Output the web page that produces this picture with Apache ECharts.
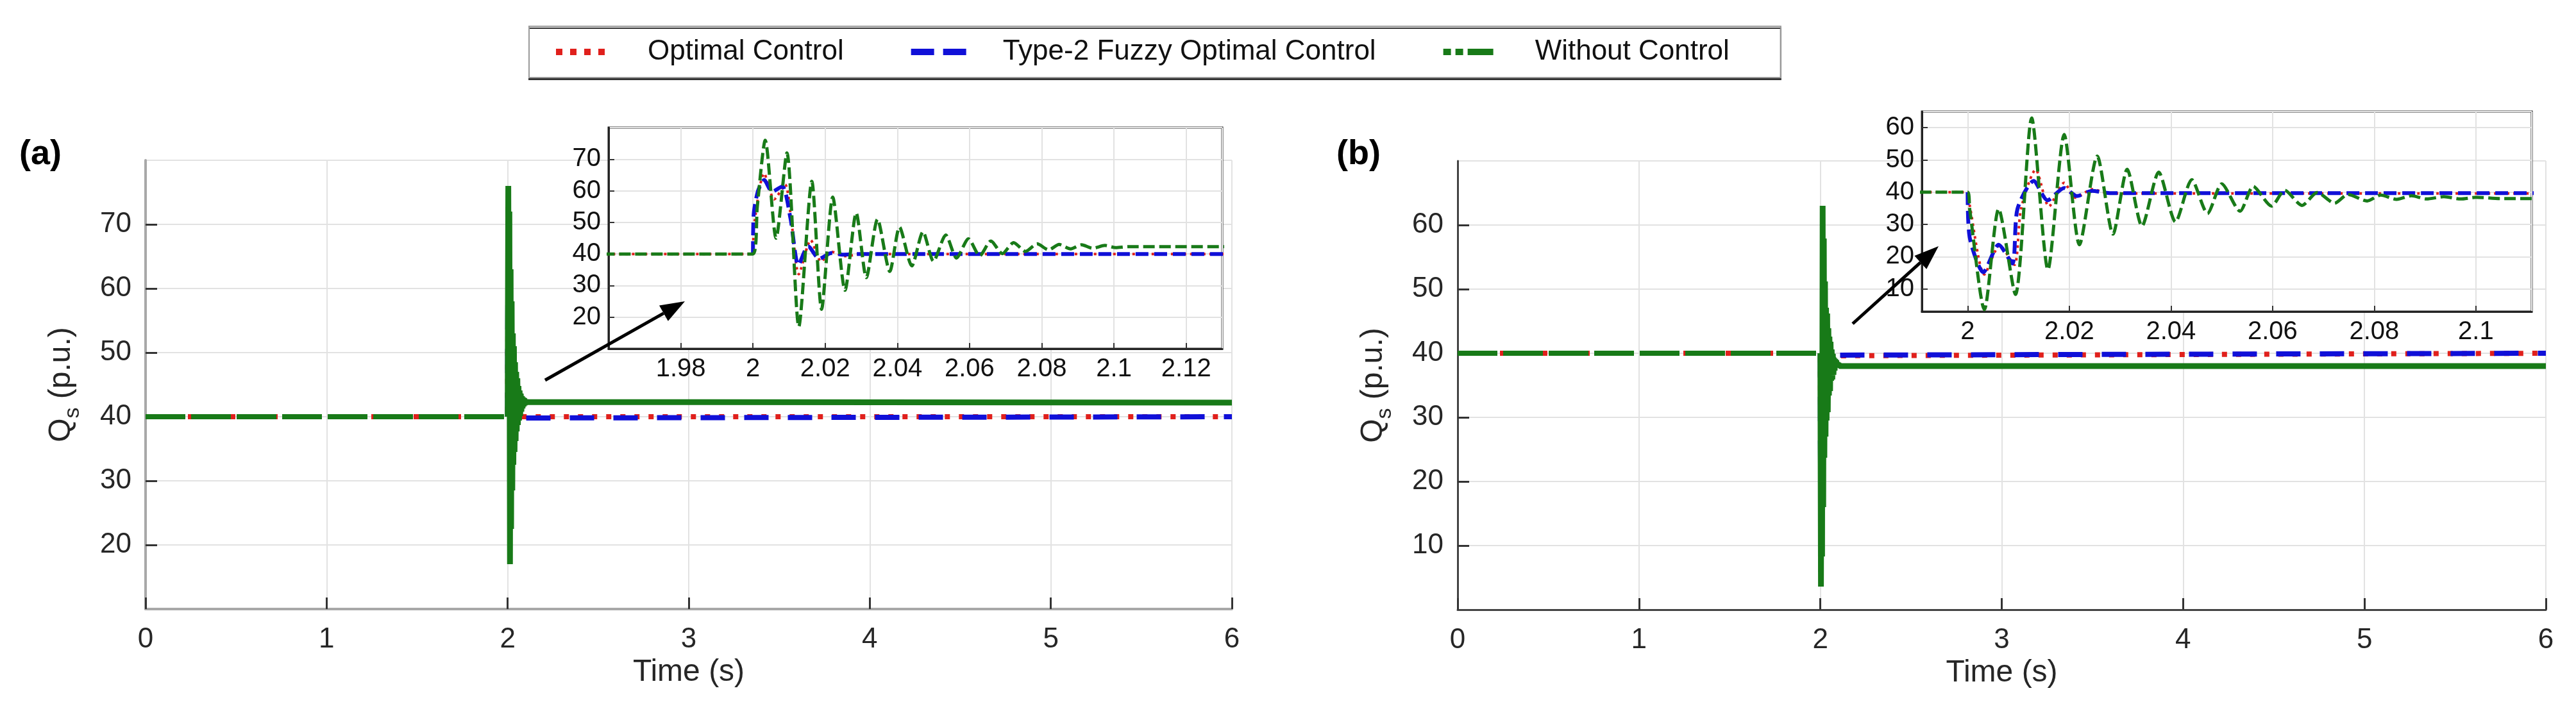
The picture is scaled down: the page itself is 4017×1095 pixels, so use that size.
<!DOCTYPE html>
<html><head><meta charset="utf-8">
<script src="https://cdn.jsdelivr.net/npm/echarts@6/dist/echarts.min.js"></script>
<style>html,body{margin:0;padding:0;background:#fff}#c{width:4017px;height:1095px}</style>
</head><body><div id="c"></div>
<script>
// ---------- DATA ----------
const seriesNames = ['Optimal Control', 'Type-2 Fuzzy Optimal Control', 'Without Control'];

// Panel (a)
const tA_without = [0, 2.000, 2.0012, 2.0034, 2.0064, 2.0094, 2.0127, 2.0163, 2.0190, 2.0221, 2.0255, 2.0286, 2.0314, 2.0345, 2.0379, 2.0406, 2.0440, 2.0471, 2.0500, 2.0534, 2.0564, 2.0597, 2.0628, 2.0659, 2.0691, 2.0722, 2.0755, 2.0787, 2.0819, 2.0848, 2.0880, 2.0910, 2.0941, 2.0975, 2.1005, 2.1040, 6];
const qA_without = [40, 40, 55, 76, 45, 72, 17, 63, 22.5, 58, 28.5, 53, 32.5, 51, 34.5, 48.5, 36.2, 47, 37.7, 46, 38.7, 44.8, 39.4, 44.1, 40.1, 43.6, 40.8, 43.2, 41.3, 43.0, 41.6, 42.9, 41.8, 42.7, 42.0, 42.3, 42.2];
const tA_fuzzy = [2.000, 2.0002, 2.0014, 2.0031, 2.0053, 2.0081, 2.0104, 2.0126, 2.0153, 2.0184, 2.0217, 2.0248, 2.0290, 6];
const qA_fuzzy = [40, 52.5, 60, 63.4, 59.7, 61.4, 51.2, 36.5, 42.4, 38.5, 40.3, 39.8, 40, 40];
const tA_optimal = [0, 2.000, 2.0002, 2.0031, 2.0059, 2.0089, 2.0107, 2.0127, 2.0160, 2.0189, 2.0217, 2.0257, 2.0300, 6];
const qA_optimal = [40, 40, 47.8, 65.5, 57.3, 62.0, 49.8, 33.6, 44.4, 37.6, 40.7, 39.3, 40, 40];

// Panel (b)
const tB_without = [0, 2.000, 2.0004, 2.0033, 2.0061, 2.0094, 2.0126, 2.0158, 2.0190, 2.0220, 2.0255, 2.0286, 2.0314, 2.0343, 2.0376, 2.0409, 2.0441, 2.0472, 2.0500, 2.0536, 2.0562, 2.0598, 2.0624, 2.0658, 2.0688, 2.0722, 2.0748, 2.0786, 2.0813, 2.0844, 2.0873, 2.0903, 2.0937, 2.0970, 2.1000, 2.1050, 6];
const qB_without = [40, 40, 34.8, 3.6, 34.8, 8.3, 63, 16, 57.9, 23.7, 51.2, 27, 47.1, 29.5, 46.2, 30.8, 43.9, 33.4, 42.6, 34.1, 41.8, 35.7, 40.6, 35.9, 39.9, 36.6, 39.3, 37.3, 39.1, 37.8, 38.9, 37.9, 38.6, 37.9, 38.4, 38.0, 38.0];
const tB_fuzzy = [2.000, 2.0004, 2.0031, 2.0061, 2.0088, 2.0098, 2.0130, 2.0157, 2.0190, 2.0215, 2.0245, 2.0280, 6];
const qB_fuzzy = [40, 26, 15.2, 23.7, 17.9, 34.8, 43.5, 37.5, 41.3, 38.8, 40.4, 39.7, 40];
const tB_optimal = [0, 2.000, 2.0004, 2.0033, 2.0063, 2.0092, 2.0105, 2.0134, 2.0160, 2.0190, 2.0212, 2.0245, 2.0280, 6];
const qB_optimal = [40, 40, 36, 14.5, 23.5, 17.5, 34.8, 47, 35.6, 42.9, 38.3, 40.9, 39.6, 40];

// Axis ranges
const mainX = [0, 6];
const mainYA = [10, 80];
const mainYB = [0, 70];
const insetXA = [1.96, 2.13];
const insetYA = [10, 80];
const insetXB = [1.991, 2.111];
const insetYB = [3, 65];

// ---------- helpers ----------
const pairs = (t, q) => t.map((v, i) => [v, q[i]]);
const upTo = (t, q, t1) => pairs(t, q).filter(p => p[0] <= t1);
const fromT = (t, q, t0) => pairs(t, q).filter(p => p[0] >= t0);

const FONT = "'Liberation Sans', Arial, Helvetica, sans-serif";
const RED = '#e0201c', BLUE = '#1010d8', GREEN = '#187a18';
const TXT = '#262626';

function mainXAxis(gi, axisColor, axisW) {
  return {
    type: 'value', gridIndex: gi, min: mainX[0], max: mainX[1], interval: 1, z: 1,
    name: 'Time (s)', nameLocation: 'middle', nameGap: 66,
    nameTextStyle: { fontSize: 48, color: TXT, fontFamily: FONT },
    axisLine: { show: true, onZero: false, lineStyle: { color: axisColor, width: axisW } },
    axisTick: { show: true, inside: true, length: 18, lineStyle: { color: '#333', width: 3 } },
    axisLabel: { fontSize: 44, color: TXT, margin: 26, fontFamily: FONT },
    splitLine: { show: true, lineStyle: { color: '#e2e2e2', width: 2 } }
  };
}
function mainYAxis(gi, range, axisColor, axisW) {
  return {
    type: 'value', gridIndex: gi, min: range[0], max: range[1], interval: 10, z: 1,
    name: '{q|Q}{s|s}{u| (p.u.)}', nameLocation: 'middle', nameGap: 96, nameRotate: 90,
    nameTextStyle: { color: TXT, fontFamily: FONT, fontSize: 48,
      rich: {
        q: { fontSize: 48, lineHeight: 70, verticalAlign: 'middle', fontFamily: FONT, color: TXT },
        s: { fontSize: 34, lineHeight: 34, verticalAlign: 'bottom', fontFamily: FONT, color: TXT },
        u: { fontSize: 48, lineHeight: 70, verticalAlign: 'middle', fontFamily: FONT, color: TXT }
      } },
    axisLine: { show: true, onZero: false, lineStyle: { color: axisColor, width: axisW } },
    axisTick: { show: true, inside: true, length: 18, lineStyle: { color: '#333', width: 3 } },
    axisLabel: { fontSize: 44, color: TXT, margin: 22, fontFamily: FONT, showMinLabel: false, showMaxLabel: false },
    splitLine: { show: true, lineStyle: { color: '#e2e2e2', width: 2 } }
  };
}
function insetXAxis(gi, range, interval) {
  const o = {
    type: 'value', gridIndex: gi, min: range[0], max: range[1], z: 6,
    axisLine: { show: true, onZero: false, lineStyle: { color: '#222', width: 3 } },
    axisTick: { show: true, inside: true, length: 9, lineStyle: { color: '#333', width: 2 } },
    axisLabel: { fontSize: 40, color: '#111', margin: 12, fontFamily: FONT, showMinLabel: false, showMaxLabel: false,
      formatter: v => String(+(+v).toFixed(3)) },
    splitLine: { show: true, lineStyle: { color: '#e2e2e2', width: 2 } }
  };
  if (interval) o.interval = interval; else o.splitNumber = 6;
  return o;
}
function insetYAxis(gi, range, interval) {
  const o = {
    type: 'value', gridIndex: gi, min: range[0], max: range[1], z: 6,
    axisLine: { show: true, onZero: false, lineStyle: { color: '#222', width: 3 } },
    axisTick: { show: true, inside: true, length: 9, lineStyle: { color: '#333', width: 2 } },
    axisLabel: { fontSize: 40, color: '#111', margin: 12, fontFamily: FONT, showMinLabel: false, showMaxLabel: false },
    splitLine: { show: true, lineStyle: { color: '#e2e2e2', width: 2 } }
  };
  if (interval) o.interval = interval; else o.splitNumber = 6;
  return o;
}

function panelSeries(xi, yi, ixi, iyi, tW, qW, tF, qF, tO, qO) {
  const base = { type: 'line', showSymbol: false, symbol: 'none', silent: true, animation: false };
  return [
    // main plot
    Object.assign({}, base, { name: seriesNames[0], xAxisIndex: xi, yAxisIndex: yi, z: 2,
      data: pairs(tO, qO), lineStyle: { color: RED, width: 8, type: [8, 14] }, itemStyle: { color: RED } }),
    Object.assign({}, base, { name: seriesNames[1], xAxisIndex: xi, yAxisIndex: yi, z: 3,
      data: pairs(tF, qF), lineStyle: { color: BLUE, width: 8, type: [38, 30] }, itemStyle: { color: BLUE } }),
    Object.assign({}, base, { name: seriesNames[2], xAxisIndex: xi, yAxisIndex: yi, z: 4,
      data: upTo(tW, qW, 2.0), lineStyle: { color: GREEN, width: 8, type: [62, 9] }, itemStyle: { color: GREEN } }),
    Object.assign({}, base, { name: seriesNames[2], xAxisIndex: xi, yAxisIndex: yi, z: 4,
      data: fromT(tW, qW, 2.0), lineStyle: { color: GREEN, width: 9, type: 'solid' }, itemStyle: { color: GREEN } }),
    // inset
    Object.assign({}, base, { name: seriesNames[0], xAxisIndex: ixi, yAxisIndex: iyi, z: 7, smooth: 0.25,
      data: pairs(tO, qO), lineStyle: { color: RED, width: 4, type: [4, 6] }, itemStyle: { color: RED } }),
    Object.assign({}, base, { name: seriesNames[1], xAxisIndex: ixi, yAxisIndex: iyi, z: 8, smooth: 0.25,
      data: pairs(tF, qF), lineStyle: { color: BLUE, width: 6, type: [20, 9] }, itemStyle: { color: BLUE } }),
    Object.assign({}, base, { name: seriesNames[2], xAxisIndex: ixi, yAxisIndex: iyi, z: 9, smooth: 0.25,
      data: pairs(tW, qW), lineStyle: { color: GREEN, width: 5, type: [18, 7] }, itemStyle: { color: GREEN } })
  ];
}

function arrow(x1, y1, x2, y2) {
  const dx = x2 - x1, dy = y2 - y1, L = Math.hypot(dx, dy);
  const ux = dx / L, uy = dy / L, nx = -uy, ny = ux;
  const hl = 38, hw = 14;
  const bx = x2 - ux * hl, by = y2 - uy * hl;
  return [
    { type: 'line', z: 30, shape: { x1, y1, x2: bx, y2: by }, style: { stroke: '#000', lineWidth: 5 } },
    { type: 'polygon', z: 30, shape: { points: [[x2, y2], [bx + nx * hw, by + ny * hw], [bx - nx * hw, by - ny * hw]] },
      style: { fill: '#000' } }
  ];
}

const option = {
  backgroundColor: '#fff',
  animation: false,
  grid: [
    { left: 227, top: 250, width: 1694, height: 700, containLabel: false, z: 0 },
    { left: 949, top: 199, width: 957, height: 345, show: true, backgroundColor: '#fff', borderColor: '#222', borderWidth: 3, z: 5 },
    { left: 2273, top: 251, width: 1697, height: 700, containLabel: false, z: 0 },
    { left: 2997, top: 174, width: 951, height: 312, show: true, backgroundColor: '#fff', borderColor: '#222', borderWidth: 3, z: 5 }
  ],
  xAxis: [
    mainXAxis(0, '#a8a8a8', 4),
    insetXAxis(1, insetXA, 0.02),
    mainXAxis(2, '#444', 3),
    insetXAxis(3, insetXB, null)
  ],
  yAxis: [
    mainYAxis(0, mainYA, '#a8a8a8', 4),
    insetYAxis(1, insetYA, 10),
    mainYAxis(2, mainYB, '#444', 3),
    insetYAxis(3, insetYB, null)
  ],
  legend: {
    left: 825, top: 41, orient: 'horizontal',
    padding: [18, 80, 18, 37], itemGap: 100, itemWidth: 88, itemHeight: 14,
    backgroundColor: '#fff', borderColor: '#9a9a9a', borderWidth: 2,
    shadowColor: '#333', shadowOffsetY: 3, shadowBlur: 0,
    textStyle: { fontSize: 44, color: '#111', fontFamily: FONT, padding: [0, 0, 0, 50] },
    selectedMode: false,
    data: [
      { name: seriesNames[0], itemStyle: { opacity: 0 }, lineStyle: { color: RED, width: 10, type: [10, 12], opacity: 1 } },
      { name: seriesNames[1], itemStyle: { opacity: 0 }, lineStyle: { color: BLUE, width: 10, type: [36, 14], opacity: 1 } },
      { name: seriesNames[2], itemStyle: { opacity: 0 }, lineStyle: { color: GREEN, width: 10, type: [12, 7, 12, 7, 40, 10], opacity: 1 } }
    ]
  },
  graphic: [
    { type: 'text', left: 30, top: 214, z: 30, style: { text: '(a)', font: 'bold 54px ' + FONT, fill: '#000' } },
    { type: 'text', left: 2084, top: 214, z: 30, style: { text: '(b)', font: 'bold 54px ' + FONT, fill: '#000' } },
    ...arrow(850, 593, 1068, 470),
    ...arrow(2889, 505, 3023, 384)
  ],
  series: [
    ...panelSeries(0, 0, 1, 1, tA_without, qA_without, tA_fuzzy, qA_fuzzy, tA_optimal, qA_optimal),
    ...panelSeries(2, 2, 3, 3, tB_without, qB_without, tB_fuzzy, qB_fuzzy, tB_optimal, qB_optimal)
  ]
};

const chart = echarts.init(document.getElementById('c'), null, { renderer: 'canvas', width: 4017, height: 1095 });
chart.setOption(option);
</script></body></html>
